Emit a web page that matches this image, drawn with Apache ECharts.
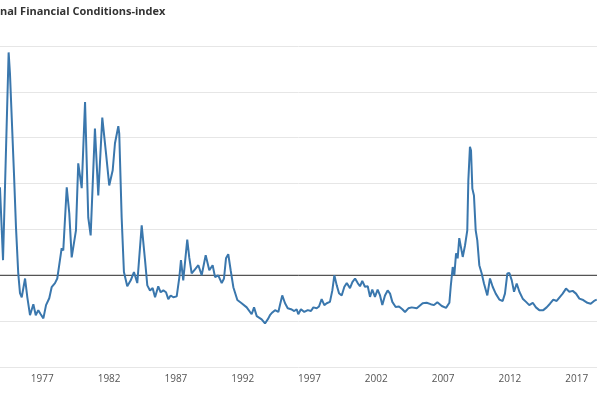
<!DOCTYPE html>
<html>
<head>
<meta charset="utf-8">
<script src="https://cdn.jsdelivr.net/npm/echarts@6/dist/echarts.min.js"></script>
<style>
html,body{margin:0;padding:0;background:#fff;}
#chart{width:597px;height:398px;}
</style>
</head>
<body>
<div id="chart"></div>
<script>
const dates = [
 1973.83,1974.06,1974.48,1974.58,1974.78,1974.88,1975.03,1975.20,1975.33,1975.46,
 1975.71,1975.88,1976.08,1976.33,1976.51,1976.70,1976.88,1977.08,1977.28,1977.52,
 1977.70,1977.95,1978.12,1978.32,1978.45,1978.57,1978.83,1979.02,1979.20,1979.32,
 1979.52,1979.69,1979.95,1980.20,1980.44,1980.62,1980.94,1981.19,1981.49,1981.77,
 1982.01,1982.27,1982.44,1982.69,1982.76,1982.94,1983.11,1983.36,1983.62,1983.86,
 1984.11,1984.44,1984.69,1984.86,1985.06,1985.26,1985.44,1985.68,1985.86,1986.06,
 1986.26,1986.43,1986.61,1986.81,1987.06,1987.26,1987.38,1987.55,1987.85,1988.00,
 1988.18,1988.43,1988.68,1988.93,1989.23,1989.50,1989.75,1989.93,1990.17,1990.43,
 1990.60,1990.75,1990.92,1991.10,1991.30,1991.60,1991.92,1992.30,1992.67,1992.85,
 1993.05,1993.42,1993.67,1993.92,1994.04,1994.22,1994.42,1994.67,1994.79,1994.96,
 1995.17,1995.37,1995.62,1995.86,1996.04,1996.16,1996.36,1996.61,1996.87,1997.11,
 1997.29,1997.54,1997.71,1997.91,1998.11,1998.29,1998.53,1998.71,1998.86,1999.04,
 1999.21,1999.41,1999.61,1999.79,2000.03,2000.21,2000.41,2000.61,2000.78,2000.95,
 2001.15,2001.36,2001.53,2001.70,2001.90,2002.10,2002.28,2002.45,2002.65,2002.85,
 2003.03,2003.20,2003.45,2003.70,2003.95,2004.15,2004.40,2004.65,2005.03,2005.47,
 2005.77,2006.07,2006.32,2006.57,2006.90,2007.22,2007.47,2007.57,2007.72,2007.84,
 2007.97,2008.09,2008.21,2008.32,2008.47,2008.64,2008.81,2008.89,2009.01,2009.09,
 2009.19,2009.31,2009.44,2009.56,2009.71,2009.89,2010.06,2010.31,2010.51,2010.71,
 2010.94,2011.21,2011.46,2011.63,2011.81,2011.96,2012.14,2012.31,2012.51,2012.71,
 2012.96,2013.21,2013.45,2013.71,2013.95,2014.20,2014.50,2014.75,2015.00,2015.25,
 2015.50,2015.75,2015.95,2016.20,2016.45,2016.70,2016.95,2017.20,2017.49,2017.80,
 2018.05,2018.30,2018.50
];
// Index values
const nfci = [
 1.92,0.33,4.86,4.40,2.94,2.22,1.05,0.04,-0.39,-0.48,
 -0.07,-0.48,-0.87,-0.63,-0.87,-0.76,-0.85,-0.94,-0.65,-0.50,
 -0.26,-0.17,-0.07,0.33,0.59,0.54,1.92,1.35,0.39,0.39,
 0.98,2.44,1.90,3.78,1.26,0.87,3.20,1.74,3.44,2.66,
 1.96,2.29,2.88,3.25,3.09,1.26,0.07,-0.24,-0.11,0.07,
 -0.17,1.09,0.33,-0.22,-0.33,-0.28,-0.48,-0.24,-0.37,-0.33,
 -0.37,-0.52,-0.44,-0.48,-0.46,-0.04,0.33,-0.11,0.78,0.39,
 0.04,0.13,0.22,0.00,0.44,0.11,0.22,-0.04,0.00,-0.17,
 -0.07,0.37,0.46,0.11,-0.26,-0.54,-0.61,-0.70,-0.85,-0.70,
 -0.89,-0.96,-1.05,-0.94,-0.87,-0.81,-0.76,-0.80,-0.65,-0.44,
 -0.61,-0.72,-0.74,-0.78,-0.74,-0.85,-0.74,-0.80,-0.76,-0.78,
 -0.70,-0.72,-0.68,-0.52,-0.65,-0.61,-0.58,-0.33,0.00,-0.22,
 -0.39,-0.44,-0.25,-0.17,-0.28,-0.15,-0.07,-0.17,-0.24,-0.12,
 -0.25,-0.24,-0.47,-0.31,-0.47,-0.31,-0.44,-0.65,-0.44,-0.33,
 -0.40,-0.58,-0.69,-0.68,-0.74,-0.80,-0.72,-0.70,-0.72,-0.61,
 -0.60,-0.63,-0.65,-0.59,-0.67,-0.71,-0.60,-0.25,0.18,0.00,
 0.48,0.37,0.81,0.83,0.40,0.65,0.98,2.07,2.80,2.72,
 1.89,1.74,0.98,0.76,0.22,0.04,-0.18,-0.44,-0.07,-0.25,
 -0.40,-0.53,-0.56,-0.40,0.04,0.05,-0.11,-0.36,-0.18,-0.36,
 -0.51,-0.58,-0.65,-0.60,-0.70,-0.76,-0.76,-0.70,-0.62,-0.53,
 -0.56,-0.47,-0.40,-0.29,-0.36,-0.34,-0.40,-0.51,-0.54,-0.60,
 -0.62,-0.56,-0.53
];
const yearTicks = [1977, 1982, 1987, 1992, 1997, 2002, 2007, 2012, 2017];
const titleText = 'National Financial Conditions-index';
const hiddenPrefix = 'Natio';

const xMin = 1973.834, xMax = 2018.52;
const titleFont = 'bold 11px "Open Sans"';
const cv = document.createElement('canvas').getContext('2d');
cv.font = titleFont;
const prefixW = cv.measureText(hiddenPrefix).width;

const chart = echarts.init(document.getElementById('chart'), null, {renderer: 'canvas'});
chart.setOption({
  animation: false,
  backgroundColor: '#ffffff',
  grid: {left: 0, right: 0, top: 46, bottom: 31, containLabel: false},
  graphic: [{
    type: 'text', left: -prefixW, top: 6,
    style: {text: titleText, font: titleFont, fill: '#333333'}
  }],
  xAxis: {
    type: 'value', min: xMin, max: xMax,
    splitLine: {show: false},
    axisLine: {show: true, lineStyle: {color: '#cccccc', width: 1}},
    axisTick: {show: false},
    axisLabel: {
      customValues: yearTicks, color: '#555555', fontSize: 10,
      fontFamily: 'Open Sans', margin: 7,
      formatter: v => String(Math.round(v))
    }
  },
  yAxis: {
    type: 'value', min: -2, max: 5, interval: 1,
    axisLine: {show: false}, axisTick: {show: false},
    axisLabel: {show: false},
    splitLine: {show: true, lineStyle: {color: '#e6e6e6', width: 1}}
  },
  series: [
    {
      type: 'line', z: 1, silent: true, symbol: 'none',
      data: [[xMin, 0], [xMax, 0]],
      lineStyle: {color: '#333333', width: 1}
    },
    {
      type: 'line', z: 2, symbol: 'none', smooth: false,
      data: dates.map((d, i) => [d, nfci[i]]),
      lineStyle: {color: '#3a77ad', width: 2}
    }
  ]
});
</script>
</body>
</html>
